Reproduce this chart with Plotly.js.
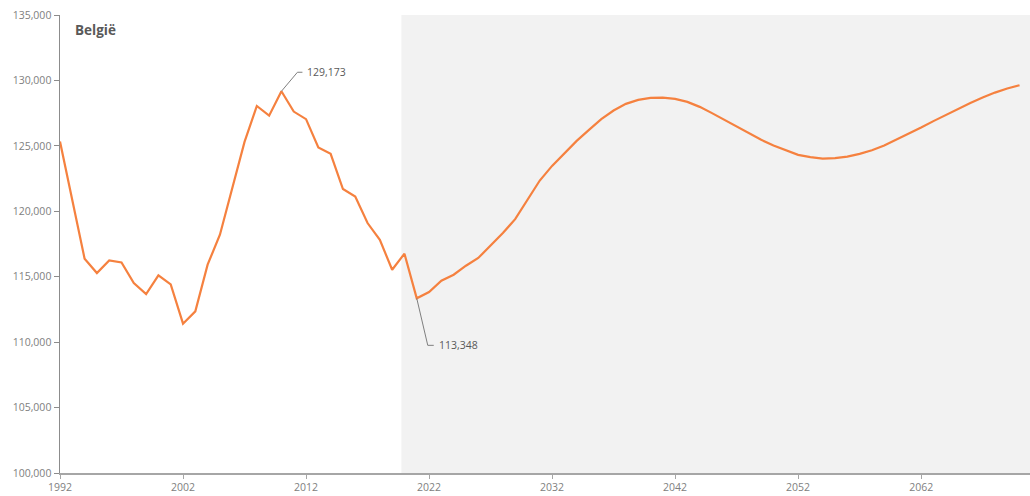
<!DOCTYPE html>
<html>
<head>
<meta charset="utf-8">
<script src="https://cdn.plot.ly/plotly-3.0.1.min.js"></script>
<style>html,body{margin:0;padding:0;background:#fff;}#chart{width:1030px;height:496px;}</style>
</head>
<body>
<div id="chart"></div>
<script>
const years = [];
for (let y = 1992; y <= 2070; y++) years.push(y);

const historical = [
  125330, 120850, 116380, 115280, 116250, 116090, 114520, 113680, 115100, 114410,
  111410, 112350, 115920, 118210, 121700, 125300, 128050, 127310, 129173, 127620,
  127040, 124870, 124390, 121700, 121130, 119100, 117820, 115530, 116760, 113348
];
const projection = [
  113830, 114700, 115150, 115840, 116430, 117370, 118340, 119400, 120830, 122350,
  123470, 124440, 125380, 126220, 127040, 127700, 128210, 128510, 128660, 128690,
  128590, 128360, 127980, 127500, 126980, 126470, 125970, 125460, 125020, 124640,
  124310, 124140, 124030, 124060, 124180, 124390, 124670, 125020, 125460, 125920,
  126400, 126890, 127370, 127850, 128280, 128690, 129070, 129380, 129630
];
const values = historical.concat(projection);

const xTickVals = [1992, 2002, 2012, 2022, 2032, 2042, 2052, 2062];
const yTickVals = [100000, 105000, 110000, 115000, 120000, 125000, 130000, 135000];

const projectionStart = 2019.75;
const maxYear = 2010, maxValue = 129173;
const minYear = 2021, minValue = 113348;

const fontFam = '"Open Sans", "Noto Sans", sans-serif';
const grey = '#808080';

const trace = {
  x: years, y: values, type: 'scatter', mode: 'lines',
  line: {color: '#f5813f', width: 2.2}, hoverinfo: 'skip'
};

const layout = {
  width: 1030, height: 496,
  margin: {l: 60, r: 0, t: 15, b: 23},
  paper_bgcolor: '#ffffff', plot_bgcolor: '#ffffff',
  showlegend: false,
  font: {family: fontFam, size: 10.5, color: grey},
  xaxis: {
    range: [1992, 2070.85], tickmode: 'array', tickvals: xTickVals,
    ticktext: xTickVals.map(String),
    showgrid: false, zeroline: false, showline: true, linecolor: '#a6a6a6', linewidth: 1.5,
    ticks: 'outside', ticklen: 4, tickcolor: '#a6a6a6', tickwidth: 1,
    tickfont: {family: fontFam, size: 10.5, color: grey}
  },
  yaxis: {
    range: [100000, 135000], tickmode: 'array', tickvals: yTickVals,
    ticktext: yTickVals.map(v => v.toLocaleString('en-US')),
    showgrid: false, zeroline: false, showline: true, linecolor: '#8c8c8c', linewidth: 1.5,
    ticks: 'outside', ticklen: 5, tickcolor: '#8c8c8c', tickwidth: 1,
    tickfont: {family: fontFam, size: 10.5, color: grey}
  },
  shapes: [
    {type: 'rect', xref: 'x', yref: 'paper', x0: projectionStart, x1: 2070.85, y0: 0, y1: 1,
     fillcolor: '#f2f2f2', line: {width: 0}, layer: 'below'},
    {type: 'path', xref: 'x', yref: 'y', xsizemode: 'pixel', ysizemode: 'pixel',
     xanchor: maxYear, yanchor: maxValue, path: 'M0,0 L16,19 L21,19',
     line: {color: '#7f7f7f', width: 1}},
    {type: 'path', xref: 'x', yref: 'y', xsizemode: 'pixel', ysizemode: 'pixel',
     xanchor: minYear, yanchor: minValue, path: 'M0,0 L11,-47 L17,-47',
     line: {color: '#7f7f7f', width: 1}}
  ],
  annotations: [
    {xref: 'paper', yref: 'paper', x: 0.0135, y: 0.968, xanchor: 'left', yanchor: 'middle',
     text: '<b>België</b>', showarrow: false,
     font: {family: fontFam, size: 13.5, color: '#595959'}},
    {xref: 'x', yref: 'y', x: maxYear, y: maxValue, xshift: 24, yshift: 19,
     xanchor: 'left', yanchor: 'middle', showarrow: false,
     text: maxValue.toLocaleString('en-US'), font: {family: fontFam, size: 10.5, color: '#595959'}},
    {xref: 'x', yref: 'y', x: minYear, y: minValue, xshift: 20, yshift: -47,
     xanchor: 'left', yanchor: 'middle', showarrow: false,
     text: minValue.toLocaleString('en-US'), font: {family: fontFam, size: 10.5, color: '#595959'}}
  ]
};

Plotly.newPlot('chart', [trace], layout, {staticPlot: true, displayModeBar: false});
</script>
</body>
</html>
